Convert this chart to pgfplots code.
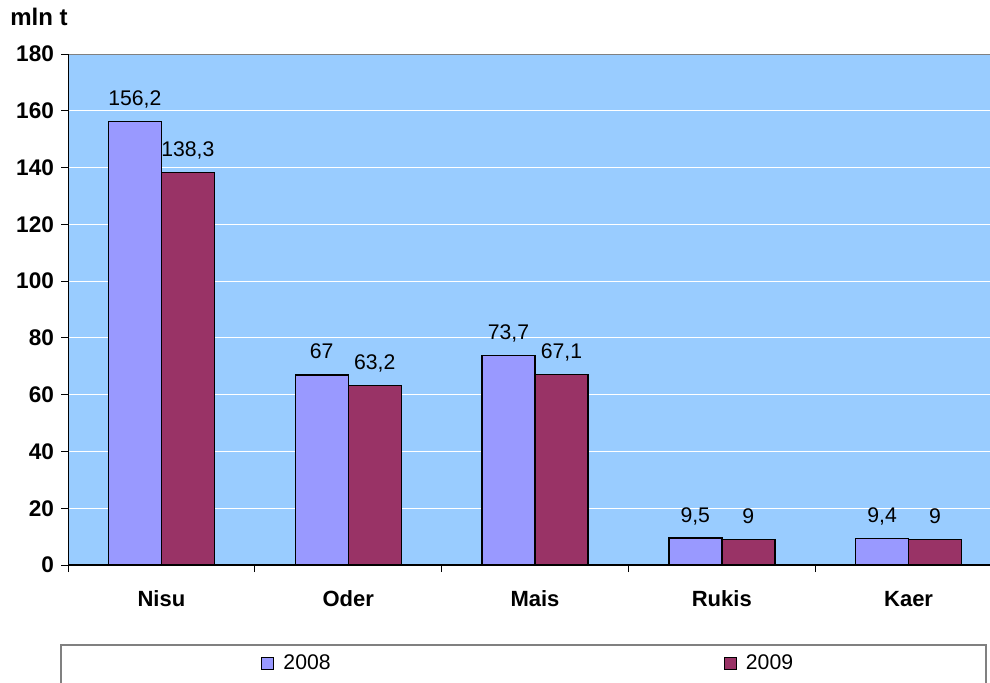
\documentclass[border=0pt]{standalone}
\usepackage{fontspec}
\setmainfont{Liberation Sans}
\usepackage{pgfplots}
\pgfplotsset{compat=1.18}
\definecolor{bgblue}{HTML}{99CCFF}
\definecolor{c08}{HTML}{9999FF}
\definecolor{c09}{HTML}{993366}
\newcommand{\fs}{\fontsize{10.6}{12}\selectfont}
\newcommand{\fb}{\fontsize{11.3}{13}\selectfont}
\begin{document}
\begin{tikzpicture}
\useasboundingbox (0,0) rectangle (495pt,341pt);
\begin{axis}[
 at={(34pt,58.5pt)}, anchor=south west,
 scale only axis, width=467pt, height=255.5pt,
 xmin=-0.5, xmax=4.5, ymin=0, ymax=180,
 ybar=0pt, bar width=26.5pt,
 axis background/.style={fill=bgblue},
 axis line style={draw=gray},
 /pgf/number format/assume math mode=true,
 /pgf/number format/use comma,
 /pgf/number format/1000 sep={},
 ytick={0,20,...,180},
 ymajorgrids, grid style={white, line width=0.6pt},
 tick align=outside, tick pos=left,
 major tick length=3.5pt, minor tick length=3.5pt,
 tick style={black, line width=0.5pt},
 yticklabel style={font=\bfseries\fb},
 xtick={0,1,2,3,4},
 xticklabels={Nisu,Oder,Mais,Rukis,Kaer},
 major x tick style={draw=none},
 minor xtick={-0.5,0.5,1.5,2.5,3.5,4.5},
 xticklabel style={font=\bfseries\fontsize{11}{13}\selectfont, yshift=-5.5pt, text height=8.3pt, text depth=0.5pt},
 nodes near coords,
 nodes near coords style={anchor=base, yshift=8pt, font=\fs, black},
 legend style={at={(axis description cs:0.2,-0.192)}, anchor=west, draw=none, fill=none,
   font=\fs, /tikz/every even column/.append style={column sep=194.5pt}},
 legend columns=2,
 legend image code/.code={\draw[#1,draw=black,line width=0.6pt] (0pt,-3pt) rectangle (6pt,3pt); \path (8.5pt,0pt);},
]
\addplot[fill=c08, draw=black, line width=0.7pt] coordinates {(0,156.2) (1,67) (2,73.7) (3,9.5) (4,9.4)};
\addplot[fill=c09, draw=black, line width=0.7pt] coordinates {(0,138.3) (1,63.2) (2,67.1) (3,9) (4,9)};
\legend{2008,2009}
\draw[black, line width=0.6pt] (rel axis cs:0,1) -- (rel axis cs:0,0) -- (rel axis cs:1,0);
\end{axis}
\node[anchor=base west, font=\bfseries\fontsize{12}{14}\selectfont, inner sep=0pt] at (5pt,328pt) {mln t};
\draw[gray, line width=0.6pt] (30.5pt,-10pt) rectangle (493pt,18.5pt);
\end{tikzpicture}
\end{document}
